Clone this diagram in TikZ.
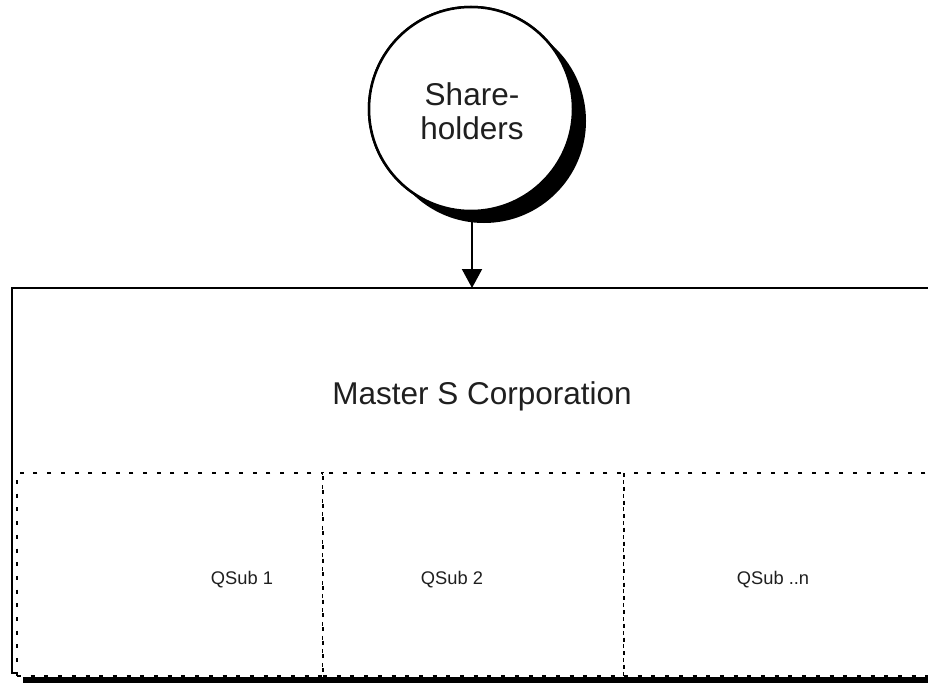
\documentclass[tikz,border=0pt]{standalone}
\usepackage{fontspec}
\setmainfont{Liberation Sans}
\usetikzlibrary{arrows.meta,shapes.geometric}
\begin{document}
\begin{tikzpicture}[x=1pt,y=-1pt,
  shadowfill/.style={fill=black,draw=none},
  subbox/.style={draw=black,fill=white,line width=2pt,dash pattern=on 4pt off 9.7pt,
    inner sep=0pt,anchor=north west,minimum height=203pt},
  bigtext/.style={font=\fontsize{31.5}{34}\selectfont,align=center,inner sep=0pt,text=black!88},
  smalltext/.style={font=\fontsize{18.3}{22}\selectfont,inner sep=0pt,text=black!88},
  link/.style={line width=2pt,-{Triangle[width=20pt,length=19pt]}}]
\useasboundingbox (0,0) rectangle (928,682);
\clip (0,0) rectangle (928,682);

% outer frame of the master corporation
\node[inner sep=0pt,minimum width=940pt,minimum height=386pt,anchor=north west] (master) at (12,288) {};
\fill[shadowfill] (23,676.5) rectangle (970,700);
\draw[line width=2.5pt] (16,673) -- (master.north west |- 0,673) -- (master.north west) -- (master.north east);

% subsidiaries
\node[subbox,minimum width=306pt] (q1) at (16,472) {};
\node[subbox,minimum width=301pt] (q2) at (322,472) {};
\node[subbox,minimum width=330pt] (q3) at (623,472) {};
\node[smalltext] (q1t) at (242,580) {QSub 1};
\node[smalltext] (q2t) at (452,580) {QSub 2};
\node[smalltext] (q3t) at (773,580) {QSub ..n};

\node[bigtext] (mastert) at (482,396) {Master S Corporation};

% shareholders circle with its shadow
\node[circle,shadowfill,minimum size=204pt,inner sep=0pt] (shshadow) at (484,121) {};
\node[circle,draw=black,fill=white,line width=2.5pt,minimum size=204pt,inner sep=0pt] (sh) at (471,109) {};
\draw[link] (sh.south -| 472,0) -- (472,288);
\node[circle,draw=black,fill=white,line width=2.5pt,minimum size=204pt,inner sep=0pt] at (sh.center) {};
\node[bigtext] (sht) at (472,111) {Share-\\holders};
\end{tikzpicture}
\end{document}
